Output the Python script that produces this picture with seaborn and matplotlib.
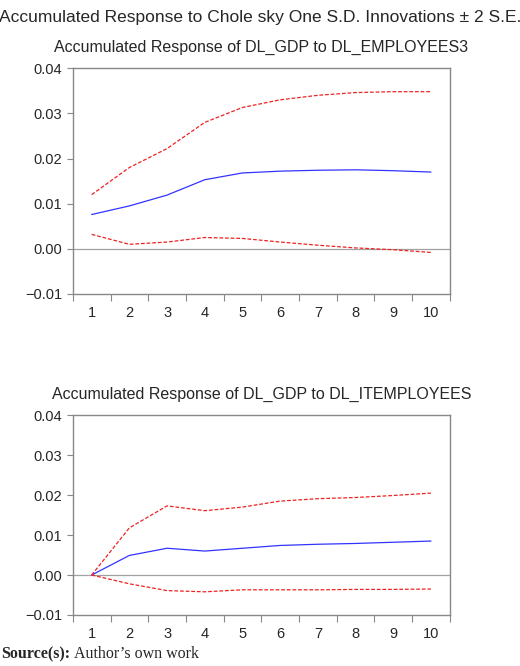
import matplotlib
matplotlib.use("Agg")
import matplotlib.pyplot as plt
import seaborn as sns
import pandas as pd

periods = list(range(1, 11))

emp_resp = [0.0076, 0.0095, 0.0119, 0.0153, 0.0168, 0.0172, 0.0174, 0.0175, 0.0173, 0.0170]
emp_upper = [0.0120, 0.0180, 0.0222, 0.0280, 0.0313, 0.0330, 0.0340, 0.0346, 0.0348, 0.0348]
emp_lower = [0.0032, 0.0010, 0.0015, 0.0025, 0.0023, 0.0015, 0.0008, 0.0002, -0.0002, -0.0008]

it_resp = [0.0, 0.0049, 0.0067, 0.0060, 0.0067, 0.0074, 0.0077, 0.0079, 0.0082, 0.0085]
it_upper = [0.0, 0.0118, 0.0173, 0.0161, 0.0170, 0.0185, 0.0191, 0.0194, 0.0199, 0.0205]
it_lower = [0.0, -0.0022, -0.0039, -0.0042, -0.0037, -0.0037, -0.0037, -0.0036, -0.0036, -0.0035]

sns.set_style("ticks")
plt.rcParams["font.family"] = ["Liberation Sans", "DejaVu Sans"]

fig = plt.figure(figsize=(5.2, 6.66), dpi=100)
ax1 = fig.add_axes([0.140, 0.5586, 0.725, 0.339])
ax2 = fig.add_axes([0.140, 0.0766, 0.725, 0.300])


def draw(ax, resp, upper, lower, title):
    df = pd.DataFrame({"period": periods, "resp": resp, "upper": upper, "lower": lower})
    ax.axhline(0, color="#a0a0a0", lw=0.9)
    sns.lineplot(data=df, x="period", y="resp", ax=ax, color="#3333ff", lw=0.9)
    sns.lineplot(data=df, x="period", y="upper", ax=ax, color="#ee2222", lw=0.9, linestyle=(0, (3, 1.5)))
    sns.lineplot(data=df, x="period", y="lower", ax=ax, color="#ee2222", lw=0.9, linestyle=(0, (3, 1.5)))
    ax.set_xlim(0.5, 10.5)
    ax.set_ylim(-0.01, 0.04)
    ax.set_yticks([-0.01, 0.0, 0.01, 0.02, 0.03, 0.04])
    ax.set_yticklabels(["\u22120.01", "0.00", "0.01", "0.02", "0.03", "0.04"])
    ax.set_xticks(periods)
    ax.set_xticks([p + 0.5 for p in range(0, 11)], minor=True)
    ax.tick_params(axis="x", which="major", length=0, pad=9, labelsize=10.5)
    ax.tick_params(axis="x", which="minor", length=5, direction="out", width=0.8, color="#888888")
    ax.tick_params(axis="y", length=4, width=0.8, color="#888888", labelsize=10.5)
    for s in ax.spines.values():
        s.set_color("#888888")
        s.set_linewidth(1.0)
    ax.set_xlabel("")
    ax.set_ylabel("")
    ax.set_title(title, fontsize=11.5, pad=12)


draw(ax1, emp_resp, emp_upper, emp_lower, "Accumulated Response of DL_GDP to DL_EMPLOYEES3")
draw(ax2, it_resp, it_upper, it_lower, "Accumulated Response of DL_GDP to DL_ITEMPLOYEES")

fig.text(0.5, 0.985, "Accumulated Response to Chole sky One S.D. Innovations \u00b1 2 S.E.",
         ha="center", va="top", fontsize=12.5)
fig.text(0.002, 0.006, "Source(s):", family="Liberation Serif", fontsize=11.5,
         fontweight="bold", va="bottom")
fig.text(0.142, 0.006, "Author\u2019s own work", family="Liberation Serif", fontsize=11.5, va="bottom")

fig.savefig("out.png", dpi=100)
